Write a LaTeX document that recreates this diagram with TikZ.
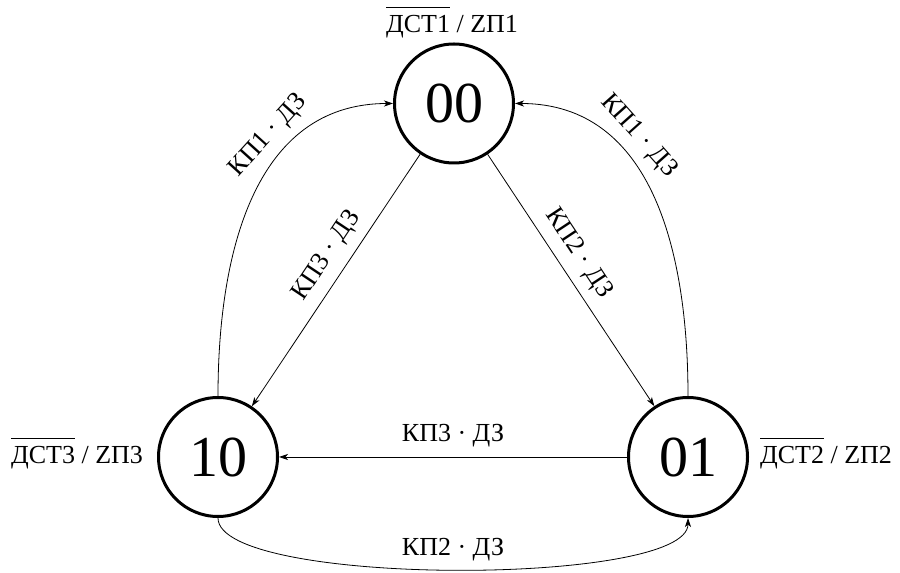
\documentclass[tikz,border=0pt]{standalone}
\usepackage{fontspec}
\setmainfont{Liberation Serif}
\usetikzlibrary{arrows.meta}
\newcommand\ovl[1]{\vbox{\hrule height 1pt\kern 8pt\hbox{#1}}}
\begin{document}
\begin{tikzpicture}[x=1pt,y=1pt,
  >={Stealth[length=9pt,width=6pt,inset=2.5pt]},
  state/.style={circle,draw,line width=3pt,minimum size=119pt,inner sep=0pt,font=\fontsize{58}{60}\selectfont},
  lbl/.style={font=\fontsize{26}{28}\selectfont,inner sep=0pt},
  elbl/.style={font=\fontsize{26}{28}\selectfont,inner sep=2pt},
  conn/.style={line width=0.8pt}
]
\useasboundingbox (0,0) rectangle (900,573);
\node[state] (n00) at (454,469.5) {00};
\node[state] (n10) at (218,116) {10};
\node[state] (n01) at (688,116) {01};
\node[lbl,anchor=base] (l00) at (452,540) {\ovl{ДСТ1} / ZП1};
\node[lbl,anchor=base] (l10) at (77,109) {\ovl{ДСТ3} / ZП3};
\node[lbl,anchor=base] (l01) at (826,109) {\ovl{ДСТ2} / ZП2};
\draw[conn,->] (n10.north) to[out=90,in=180,looseness=1.05] node[elbl,sloped,above=7pt,pos=0.66]{КП1 · ДЗ} (n00.west);
\draw[conn,<-] (n00.east) to[out=0,in=90,looseness=1.05] node[elbl,sloped,above=7pt,pos=0.34]{КП1 · ДЗ} (n01.north);
\draw[conn,<-] (n10) -- node[elbl,sloped,above=7pt,pos=0.55]{КП3 · ДЗ} (n00);
\draw[conn,->] (n00) -- node[elbl,sloped,above=7pt,pos=0.44]{КП2 · ДЗ} (n01);
\draw[conn,->] (n01) -- node[elbl,above=8pt]{КП3 · ДЗ} (n10);
\draw[conn,->] (n10.south) to[out=-90,in=-90,looseness=0.375] node[elbl,above=6pt]{КП2 · ДЗ} (n01.south);
\end{tikzpicture}
\end{document}
